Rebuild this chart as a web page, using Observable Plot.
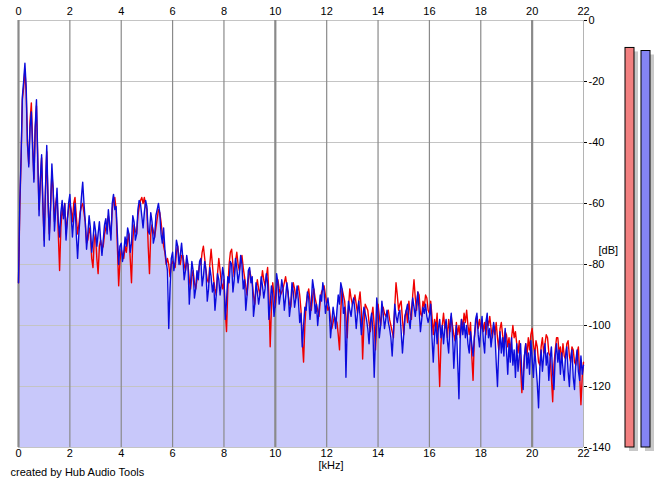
<!DOCTYPE html>
<html>
<head>
<meta charset="utf-8">
<script src="https://cdn.jsdelivr.net/npm/d3@7"></script>
<script src="https://cdn.jsdelivr.net/npm/@observablehq/plot@0.6"></script>
<style>
  html, body { margin: 0; padding: 0; background: #fff; }
  #wrap { position: relative; width: 665px; height: 487px; overflow: hidden; background: #fff; }
  #wrap > svg, #wrap > figure { position: absolute; left: 0; top: 0; margin: 0; }
</style>
</head>
<body>
<div id="wrap"></div>
<script>
// Frequency ticks (kHz) and level ticks (dB)
const freqTicks = [0, 2, 4, 6, 8, 10, 12, 14, 16, 18, 20, 22];
const dbTicks = [0, -20, -40, -60, -80, -100, -120, -140];

// Spectrum values, one every 0.05 kHz from 0 to 22 kHz (one row = 1 kHz)
const freqStep = 0.05;
const blueDb = [
  -86,-60,-45,-25,-20,-14,-22,-40,-48,-35,-30,-42,-53,-35,-26,-45,-64,-52,-44,-60,
  -74,-55,-41,-58,-72,-60,-47,-55,-69,-62,-55,-66,-71,-63,-59,-65,-60,-72,-66,-60,
  -57,-64,-71,-65,-60,-70,-78,-70,-64,-58,-53,-60,-66,-75,-70,-64,-68,-76,-72,-66,
  -69,-74,-70,-66,-72,-77,-72,-67,-65,-70,-62,-67,-72,-60,-57,-62,-61,-70,-80,-74,
  -73,-79,-76,-71,-74,-68,-70,-76,-73,-64,-66,-72,-70,-62,-59,-60,-64,-68,-63,-59,
  -61,-69,-70,-63,-66,-73,-71,-64,-62,-60,-63,-70,-73,-68,-75,-79,-82,-101,-88,-78,
  -76,-82,-79,-72,-74,-80,-77,-73,-78,-85,-82,-77,-80,-93,-86,-79,-82,-91,-88,-82,
  -85,-79,-78,-87,-84,-79,-82,-92,-88,-81,-84,-89,-86,-95,-90,-83,-85,-90,-86,-81,
  -84,-98,-92,-84,-86,-79,-80,-89,-85,-78,-81,-86,-83,-77,-80,-88,-85,-95,-90,-82,
  -81,-86,-84,-97,-93,-86,-89,-93,-90,-84,-87,-91,-88,-83,-86,-98,-93,-87,-90,-97,
  -93,-83,-86,-93,-90,-85,-88,-95,-91,-86,-89,-97,-93,-86,-89,-94,-91,-87,-92,-99,
  -96,-107,-100,-94,-95,-89,-91,-98,-93,-85,-88,-96,-93,-100,-95,-90,-92,-86,-89,-96,
  -93,-91,-95,-104,-99,-94,-97,-101,-95,-90,-93,-86,-88,-96,-94,-117,-100,-92,-95,-97,
  -93,-91,-95,-101,-96,-92,-97,-103,-98,-94,-96,-98,-101,-106,-99,-96,-102,-117,-104,-91,
  -96,-104,-100,-92,-96,-101,-98,-95,-99,-101,-104,-110,-102,-93,-97,-99,-96,-95,-102,-109,
  -103,-97,-95,-93,-98,-101,-95,-91,-94,-97,-93,-89,-95,-102,-98,-94,-96,-93,-97,-99,
  -97,-93,-104,-112,-103,-99,-106,-101,-98,-104,-100,-106,-101,-98,-105,-109,-100,-96,-103,-114,
  -106,-100,-112,-124,-104,-98,-103,-99,-104,-100,-106,-109,-102,-106,-110,-104,-98,-96,-103,-107,
  -101,-97,-105,-109,-99,-96,-104,-101,-107,-103,-99,-102,-112,-120,-108,-102,-109,-104,-110,-101,
  -108,-116,-106,-112,-104,-113,-108,-117,-106,-115,-110,-106,-116,-121,-110,-106,-114,-109,-116,-105,
  -111,-117,-108,-113,-119,-127,-114,-108,-115,-110,-106,-113,-109,-118,-111,-107,-116,-121,-110,-106,
  -112,-108,-116,-109,-114,-118,-110,-107,-115,-120,-111,-108,-117,-121,-112,-108,-115,-118,-110,-116,
  -113
];
const redDb = [
  -86,-62,-46,-26,-22,-16,-24,-41,-47,-33,-27,-40,-52,-36,-28,-46,-62,-53,-45,-61,
  -72,-56,-43,-60,-70,-61,-50,-56,-66,-60,-57,-70,-82,-68,-62,-64,-60,-70,-65,-62,
  -60,-62,-66,-60,-58,-64,-70,-67,-63,-61,-60,-63,-66,-73,-72,-68,-70,-78,-81,-72,
  -70,-78,-83,-74,-72,-75,-74,-70,-68,-66,-64,-68,-70,-62,-59,-58,-62,-74,-87,-79,
  -75,-77,-78,-74,-76,-72,-70,-78,-86,-72,-67,-69,-70,-64,-61,-59,-58,-60,-58,-61,
  -62,-74,-83,-70,-67,-69,-71,-68,-65,-62,-63,-66,-70,-74,-76,-80,-78,-80,-84,-80,
  -79,-80,-81,-76,-74,-78,-80,-77,-77,-80,-82,-79,-80,-85,-88,-84,-82,-86,-88,-85,
  -83,-80,-80,-76,-74,-78,-82,-85,-86,-80,-75,-80,-85,-88,-90,-83,-78,-82,-86,-88,
  -85,-95,-102,-88,-80,-76,-75,-80,-84,-79,-76,-80,-82,-79,-77,-81,-84,-87,-90,-85,
  -82,-84,-86,-90,-93,-88,-85,-88,-90,-86,-82,-85,-87,-84,-81,-90,-107,-94,-86,-90,
  -94,-88,-85,-88,-90,-89,-88,-86,-84,-87,-90,-93,-94,-89,-86,-88,-91,-89,-87,-90,
  -95,-105,-112,-100,-93,-90,-88,-92,-95,-91,-88,-91,-93,-95,-97,-92,-89,-88,-87,-90,
  -93,-95,-94,-98,-101,-99,-97,-98,-99,-103,-108,-95,-88,-90,-92,-97,-104,-94,-88,-91,
  -93,-92,-90,-93,-96,-92,-89,-95,-111,-100,-93,-94,-95,-99,-102,-97,-94,-100,-108,-99,
  -93,-97,-100,-96,-94,-96,-97,-96,-95,-98,-100,-102,-104,-94,-86,-90,-95,-93,-92,-98,
  -103,-97,-95,-99,-92,-96,-98,-90,-85,-91,-95,-89,-90,-96,-97,-92,-94,-90,-91,-95,
  -96,-92,-97,-103,-98,-101,-96,-108,-120,-106,-100,-96,-101,-99,-104,-98,-102,-97,-100,-103,
  -105,-99,-103,-100,-104,-98,-101,-96,-99,-95,-100,-103,-99,-110,-118,-104,-100,-97,-101,-98,
  -101,-98,-102,-99,-103,-98,-100,-97,-101,-104,-100,-103,-99,-104,-108,-101,-99,-103,-106,-102,
  -103,-107,-104,-109,-104,-100,-104,-102,-106,-109,-105,-114,-122,-116,-110,-106,-110,-104,-108,-103,
  -101,-106,-110,-105,-107,-112,-113,-107,-104,-109,-106,-103,-104,-109,-110,-117,-125,-113,-108,-104,
  -104,-109,-107,-112,-106,-110,-111,-106,-105,-110,-112,-107,-108,-112,-113,-109,-107,-116,-126,-117,
  -112
];

// Level meters (dB)
const meterChannels = ["L", "R"];
const meterLevels = [-9, -10];
const meterColors = ["#f28080", "#8484f4"];

const spectrum = blueDb.map((b, i) => ({
  f: Math.round(i * freqStep * 100) / 100,
  blue: b,
  red: redDb[i]
}));
const meters = meterChannels.map((c, i) => ({ ch: c, level: meterLevels[i], color: meterColors[i] }));

const W = 665, H = 487;
const common = {
  width: W,
  height: H,
  marginLeft: 18,
  marginRight: 82,
  marginTop: 20,
  marginBottom: 40,
  style: { fontFamily: "'Liberation Sans', Arial, sans-serif", fontSize: "11px", color: "#000", background: "transparent", overflow: "visible" }
};

const chart = Plot.plot({
  ...common,
  x: { domain: [0, 22] },
  y: { domain: [-140, 0] },
  marks: [
    Plot.areaY(spectrum, { x: "f", y1: () => -140, y2: "blue", fill: "#c8c8fa" }),
    Plot.ruleY(dbTicks, { stroke: "#c4c4c4", strokeWidth: 1 }),
    Plot.ruleX(freqTicks.filter(d => d !== 22), {
      stroke: "#8a8a8a",
      strokeWidth: d => (d % 10 === 0 ? 2.2 : 1.2)
    }),
    Plot.ruleX([22], { stroke: "#b4b4b4", strokeWidth: 1 }),
    Plot.line(spectrum, { x: "f", y: "red", stroke: "#f00000", strokeWidth: 1.4 }),
    Plot.line(spectrum, { x: "f", y: "blue", stroke: "#0c0cdc", strokeWidth: 1.4 }),
    Plot.axisX({ anchor: "top", ticks: freqTicks, tickSize: 0, tickPadding: 6, label: null, tickFormat: d => String(d) }),
    Plot.axisX({ anchor: "bottom", ticks: freqTicks, tickSize: 0, tickPadding: 2, label: null, tickFormat: d => String(d) }),
    Plot.axisY({ anchor: "right", ticks: dbTicks, tickSize: 3, tickPadding: 2, label: null, tickFormat: d => String(d) }),
    Plot.text(["[dB]"], { frameAnchor: "right", dx: 15, dy: 16, textAnchor: "start", fill: "#000" }),
    Plot.text(["[kHz]"], { frameAnchor: "bottom", dx: 30, dy: 21, fill: "#000" }),
    Plot.text(["created by Hub Audio Tools"], { frameAnchor: "bottom-left", dx: -8, dy: 28, textAnchor: "start", fill: "#000" })
  ]
});

const meterChart = Plot.plot({
  ...common,
  x: { domain: meterChannels, range: [625, 650], paddingInner: 0.4375, paddingOuter: 0, axis: null },
  y: { domain: [-140, 0], axis: null },
  marks: [
    Plot.barY(meters, { x: "ch", y1: () => -140, y2: "level", fill: "#c8c8c8", dx: 4, dy: 4 }),
    Plot.barY(meters, { x: "ch", y1: () => -140, y2: "level", fill: "color", stroke: "#000", strokeWidth: 1 })
  ]
});

const wrap = document.getElementById("wrap");
wrap.appendChild(chart);
wrap.appendChild(meterChart);
</script>
</body>
</html>
